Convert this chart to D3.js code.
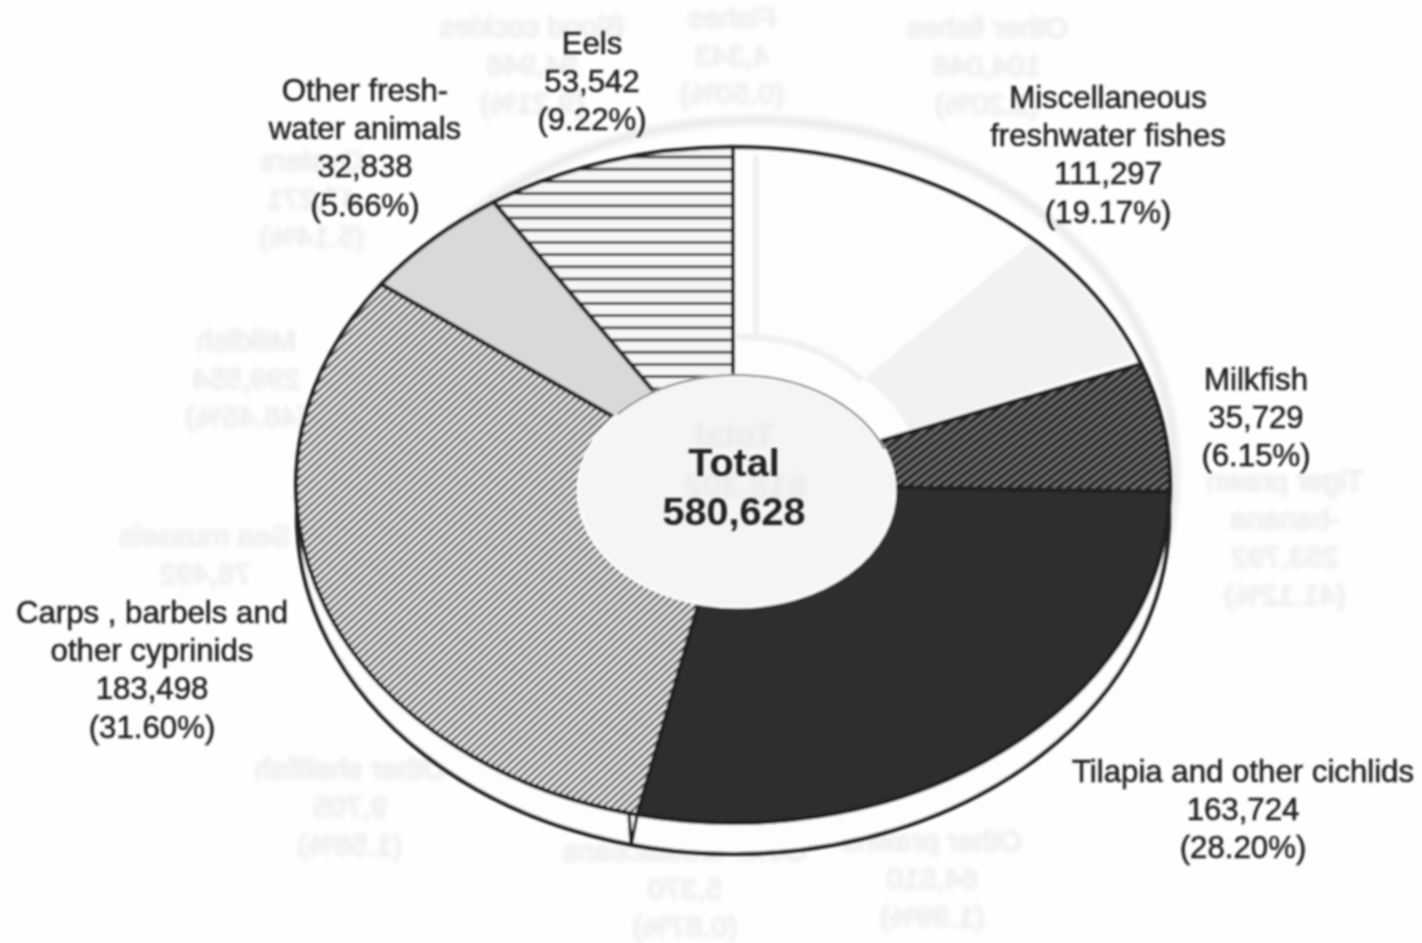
<!DOCTYPE html>
<html><head><meta charset="utf-8">
<script src="https://cdn.jsdelivr.net/npm/d3@7"></script>
<style>
html,body{margin:0;padding:0;background:#fefefe}
svg{display:block}
text{font-family:"Liberation Sans",Arial,sans-serif}
</style></head><body><svg id="c" width="1422" height="943"></svg>
<script>
const categories=["Miscellaneous freshwater fishes","Milkfish","Tilapia and other cichlids","Carps , barbels and other cyprinids","Other freshwater animals","Eels"];
const values=[111297,35729,163724,183498,32838,53542];
const fills=["#fdfdfd","url(#pMilk)","#2d2d2d","url(#pCarp)","#d9d9d9","url(#pEel)"];
const labelLines=[["Miscellaneous","freshwater fishes","111,297","(19.17%)"],["Milkfish","35,729","(6.15%)"],["Tilapia and other cichlids","163,724","(28.20%)"],["Carps , barbels and","other cyprinids","183,498","(31.60%)"],["Other fresh-","water animals","32,838","(5.66%)"],["Eels","53,542","(9.22%)"]];
const labelX=[1108,1256,1243,152,365,592];
const labelY=[97,379,771,612,90,43];
const totalLines=["Total","580,628"];
const ghostLines=[["Blood cockles","94,946","(9.21%)"],["Fishes","4,343","(0.50%)"],["Other fishes","104,048","(1.20%)"],["Oysters","47,271","(5.14%)"],["Milkfish","299,554","(48.45%)"],["Sea mussels","76,492"],["Other shellfish","9,705","(1.56%)"],["Other crustaceans","5,370","(0.87%)"],["Other prawns","64,510","(1.99%)"],["Tiger prawn","-banana","253,792","(41.12%)"]];
const ghostX=[532,732,987,312,246,205,350,685,932,1285];
const ghostY=[26,17,27,160,340,535,768,850,840,480];
const ghostTotal=["Total","618,302"];

const W=1422,H=943,cx=733,cy=485,rx=437,ry=338,depth=31,k=ry/rx;
const svg=d3.select("#c");
const defs=svg.append("defs");
const blur=(id,s)=>defs.append("filter").attr("id",id).attr("x","-5%").attr("y","-5%").attr("width","110%").attr("height","110%").append("feGaussianBlur").attr("stdDeviation",s);
blur("soft",0.8);blur("ghost",2.4);

function hatch(id,size,angle,bg,fg,lw){
  const p=defs.append("pattern").attr("id",id).attr("patternUnits","userSpaceOnUse")
    .attr("width",size).attr("height",size)
    .attr("patternTransform",`scale(1,${1/k}) rotate(${angle})`);
  p.append("rect").attr("width",size).attr("height",size).attr("fill",bg);
  p.append("rect").attr("y",0).attr("width",size).attr("height",lw).attr("fill",fg);
}
hatch("pCarp",5.6,-43,"#f0f0f0","#3c3c3c",2.3);
hatch("pMilk",6.2,-38,"#2a2a2a","#9a9a9a",1.4);
hatch("pEel",12.2,0,"#f6f6f6","#333",2.8);

const root=svg.append("g");
root.append("rect").attr("width",W).attr("height",H).attr("fill","#fefefe");

// show-through from the reverse of the page
const ghost=root.append("g").attr("filter","url(#ghost)");
ghost.append("ellipse").attr("cx",757).attr("cy",470).attr("rx",418).attr("ry",350)
  .attr("fill","none").attr("stroke","#eeeeee").attr("stroke-width",10);
ghostLines.forEach((ls,i)=>{
  ls.forEach((s,j)=>{
    ghost.append("text").attr("transform",`translate(${ghostX[i]},${ghostY[i]+j*38}) scale(-1,1)`)
      .attr("text-anchor","middle").attr("dominant-baseline","central")
      .attr("font-size",30).attr("fill","#ececec").attr("stroke","#ececec").attr("stroke-width",1).text(s);
  });
});

const main=root.append("g").attr("filter","url(#soft)");
const stroke="#222";
// rim
main.append("ellipse").attr("cx",cx).attr("cy",cy+depth).attr("rx",rx-1).attr("ry",ry)
  .attr("fill","#fdfdfd").attr("stroke",stroke).attr("stroke-width",4.2);

const pie=d3.pie().sort(null).value(d=>d)(values);
const arc=d3.arc().innerRadius(0).outerRadius(rx);
const g=main.append("g").attr("transform",`translate(${cx},${cy}) scale(1,${k})`);
g.selectAll("path").data(pie).join("path").attr("d",arc)
  .attr("fill",(d,i)=>fills[i]).attr("stroke",stroke).attr("stroke-width",4)
  .attr("vector-effect","non-scaling-stroke").attr("stroke-linejoin","round");

// sliver on the rim at the Tilapia / Carps boundary
const bA=pie[2].endAngle, px=cx+rx*Math.sin(bA)-4, py=cy-ry*Math.cos(bA);
[-4,4].forEach(o=>{
  main.append("path").attr("d",d3.line()([[px+o,py],[px-2,py+depth]]))
    .attr("stroke",stroke).attr("stroke-width",3.4).attr("fill","none");
});

// faint reverse-side wedge inside the white slice
const gw=d3.arc().innerRadius(190).outerRadius(rx-5).startAngle(0.76).endAngle(pie[0].endAngle-0.02);
main.append("g").attr("transform",`translate(${cx},${cy}) scale(1,${k})`).append("path").attr("d",gw()).attr("fill","#f2f2f2");
defs.append("clipPath").attr("id","misc").append("path").attr("transform",`translate(${cx},${cy}) scale(1,${k})`)
  .attr("d",d3.arc().innerRadius(0).outerRadius(rx-3).startAngle(0.02).endAngle(0.76)());
main.append("ellipse").attr("cx",cx+14).attr("cy",cy-6).attr("rx",160).attr("ry",142).attr("fill","none").attr("stroke","#f2f2f2").attr("stroke-width",7)
  .attr("clip-path","url(#misc)");
main.append("line").attr("x1",756).attr("x2",756).attr("y1",155).attr("y2",340).attr("stroke","#f1f1f1").attr("stroke-width",6);

// centre
const hx=736.5,hy=491,hrx=158.5,hry=116;
main.append("ellipse").attr("cx",hx).attr("cy",hy).attr("rx",hrx).attr("ry",hry).attr("fill","#f5f5f5").attr("stroke","#fbfbfb").attr("stroke-width",3);
const topArc=d3.arc().innerRadius(hrx).outerRadius(hrx).startAngle(-0.85).endAngle(1.2);
main.append("g").attr("transform",`translate(${hx},${hy}) scale(1,${hry/hrx})`).append("path").attr("d",topArc())
  .attr("fill","none").attr("stroke","#555").attr("stroke-width",1.6).attr("vector-effect","non-scaling-stroke");

// reverse-side total, faint on the centre
const gt=root.append("g").attr("filter","url(#ghost)");
ghostTotal.forEach((s,j)=>{
  gt.append("text").attr("transform",`translate(${j?745:735},${435+j*50}) scale(-1,1)`)
    .attr("text-anchor","middle").attr("dominant-baseline","central")
    .attr("font-size",34).attr("font-weight","bold").attr("fill","#ebebeb").text(s);
});

const t=root.append("g").attr("filter","url(#soft)");
labelLines.forEach((ls,i)=>{
  ls.forEach((s,j)=>{
    t.append("text").attr("x",labelX[i]).attr("y",labelY[i]+j*38.4)
      .attr("text-anchor","middle").attr("dominant-baseline","central")
      .attr("font-size",31.2).attr("fill","#222").attr("stroke","#222").attr("stroke-width",0.5).text(s);
  });
});
totalLines.forEach((s,j)=>{
  t.append("text").attr("x",734).attr("y",462+j*49)
    .attr("text-anchor","middle").attr("dominant-baseline","central")
    .attr("font-size",39.5).attr("font-weight","bold").attr("fill","#222").text(s);
});
</script></body></html>
